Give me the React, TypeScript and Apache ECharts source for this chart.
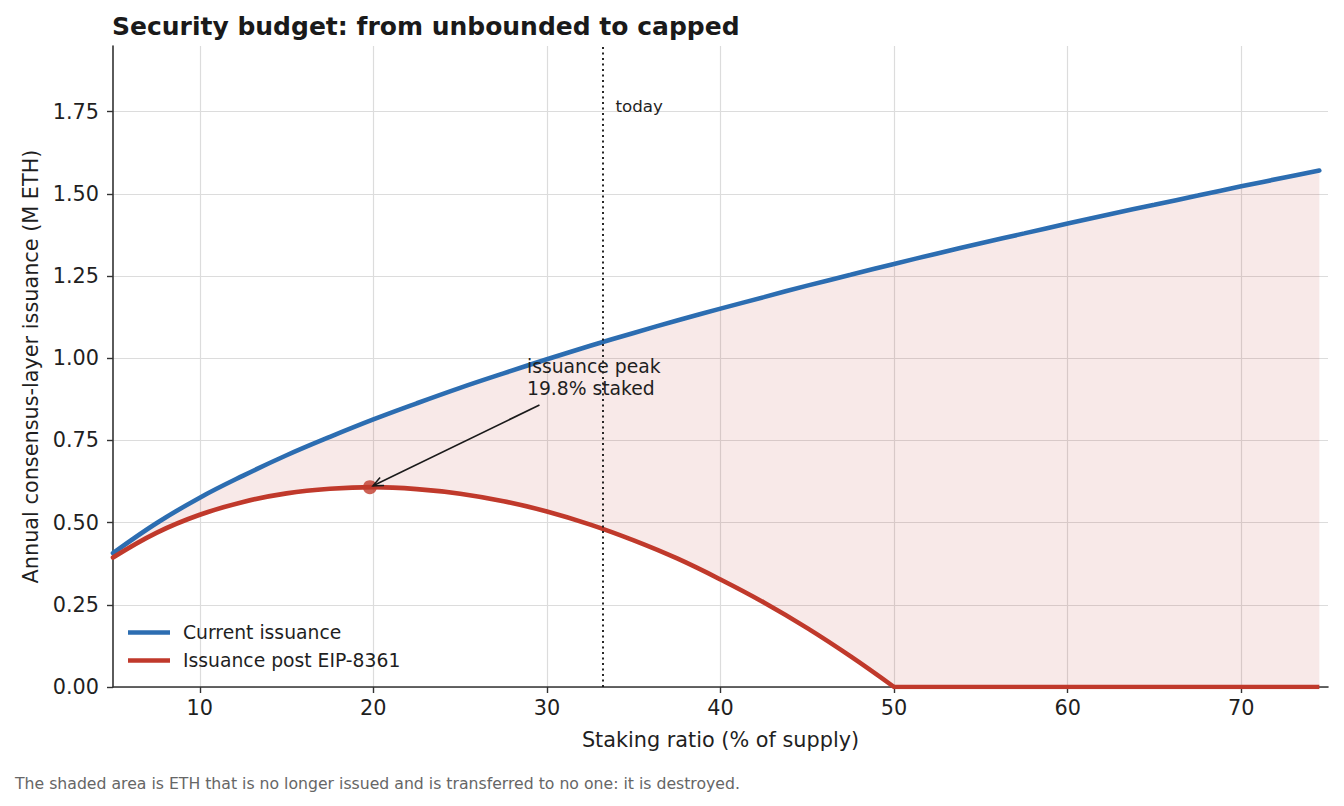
import React, { useRef, useEffect } from 'react';
import * as echarts from 'echarts';

const FONT = 'DejaVu Sans, sans-serif';

// ─── Palette ────────────────────────────────────────────────────────────────
const BLUE = '#2c6db1';
const RED = '#c0392b';
const FILL = 'rgba(192,57,43,0.11)';
const INK = '#1f1f1f';
const GRID = '#dcdcdc';

// ─── Data ───────────────────────────────────────────────────────────────────
const STAKE = [5, 7.5, 10, 12.5, 15, 17.5, 20, 22.5, 25, 27.5, 30, 32.5, 35, 37.5, 40, 42.5, 45, 47.5, 50, 52.5, 55, 57.5, 60, 62.5, 65, 67.5, 70, 72.5, 74.5];
const CURRENT = [0.407, 0.498, 0.576, 0.643, 0.705, 0.761, 0.814, 0.863, 0.910, 0.954, 0.997, 1.038, 1.077, 1.115, 1.151, 1.186, 1.221, 1.254, 1.287, 1.319, 1.350, 1.380, 1.410, 1.439, 1.467, 1.495, 1.523, 1.550, 1.571];
const POST = [0.394, 0.469, 0.524, 0.563, 0.589, 0.603, 0.608, 0.602, 0.588, 0.565, 0.534, 0.494, 0.446, 0.391, 0.327, 0.257, 0.179, 0.093, 0, 0, 0, 0, 0, 0, 0, 0, 0, 0, 0];
const X_TICKS = [10, 20, 30, 40, 50, 60, 70];
const Y_TICKS = [0, 0.25, 0.5, 0.75, 1.0, 1.25, 1.5, 1.75];
const PEAK = [19.8, 0.608];
const TODAY = 33.2;

const pairs = (ys: number[]) => STAKE.map((x, i) => [x, ys[i]]);
const cutAt = POST.indexOf(0) + 1; // curve part up to where issuance hits zero

function getOption(): echarts.EChartsCoreOption {
  return {
    animation: false,
    backgroundColor: '#ffffff',
    title: {
      text: 'Security budget: from unbounded to capped',
      left: 112,
      top: 14,
      padding: 0,
      textStyle: { fontFamily: FONT, fontSize: 25, fontWeight: 'bold', color: '#1a1a1a' },
    },
    legend: {
      data: ['Current issuance', 'Issuance post EIP-8361'],
      orient: 'vertical',
      left: 128,
      top: 623,
      padding: 0,
      itemGap: 9,
      itemWidth: 42,
      itemHeight: 4.5,
      icon: 'rect',
      textStyle: { fontFamily: FONT, fontSize: 18.75, color: INK, padding: [0, 0, 0, 8] },
    },
    grid: { left: 113, right: 16, top: 46, bottom: 119 },
    xAxis: {
      type: 'value',
      min: 5,
      max: 75,
      name: 'Staking ratio (% of supply)',
      nameLocation: 'middle',
      nameGap: 42,
      nameTextStyle: { fontFamily: FONT, fontSize: 20.8, color: INK },
      axisLine: { show: true, onZero: false, lineStyle: { color: '#333', width: 1.6 } },
      axisTick: { show: true, customValues: X_TICKS, length: 6, lineStyle: { color: '#333', width: 1.4 } },
      axisLabel: { customValues: X_TICKS, margin: 10, fontFamily: FONT, fontSize: 20.8, color: INK },
      splitLine: { show: true, lineStyle: { color: GRID, width: 1.2 } },
    },
    yAxis: {
      type: 'value',
      min: 0,
      max: 1.95,
      name: 'Annual consensus-layer issuance (M ETH)',
      nameLocation: 'middle',
      nameGap: 68,
      nameTextStyle: { fontFamily: FONT, fontSize: 20.8, color: INK },
      axisLine: { show: true, lineStyle: { color: '#333', width: 1.6 } },
      axisTick: { show: true, customValues: Y_TICKS, length: 6, lineStyle: { color: '#333', width: 1.4 } },
      axisLabel: {
        customValues: Y_TICKS,
        margin: 14,
        fontFamily: FONT,
        fontSize: 20.8,
        color: INK,
        formatter: (v: number) => v.toFixed(2),
      },
      splitLine: { show: true, lineStyle: { color: GRID, width: 1.2 } },
    },
    series: [
      // shaded band between the two curves
      {
        name: 'destroyed',
        type: 'custom',
        silent: true,
        z: 1,
        data: [0],
        renderItem: (_params: any, api: any) => {
          const top = STAKE.map((x, i) => api.coord([x, CURRENT[i]]));
          const bottom = STAKE.map((x, i) => api.coord([x, POST[i]])).reverse();
          return {
            type: 'polygon',
            shape: { points: top.concat(bottom) },
            style: { fill: FILL, stroke: 'none' },
          };
        },
      },
      {
        name: 'Current issuance',
        type: 'line',
        data: pairs(CURRENT),
        smooth: 0.4,
        symbol: 'none',
        color: BLUE,
        lineStyle: { color: BLUE, width: 4.6, cap: 'round' },
        z: 4,
        markLine: {
          silent: true,
          symbol: 'none',
          label: { show: false },
          lineStyle: { color: '#111', type: [2, 3.5], width: 1.8 },
          data: [{ xAxis: TODAY }],
        },
      },
      {
        name: 'Issuance post EIP-8361',
        type: 'line',
        data: pairs(POST).slice(0, cutAt),
        smooth: 0.4,
        symbol: 'none',
        color: RED,
        lineStyle: { color: RED, width: 4.6, cap: 'round' },
        z: 4,
      },
      {
        name: 'post-flat',
        type: 'line',
        data: pairs(POST).slice(cutAt - 1),
        symbol: 'none',
        color: RED,
        lineStyle: { color: RED, width: 4.6 },
        z: 4,
      },
      {
        name: 'peak',
        type: 'scatter',
        data: [PEAK],
        symbolSize: 14,
        itemStyle: { color: RED },
        z: 5,
      },
    ],
  };
}

function annotations(chart: echarts.ECharts) {
  const px = (p: number[]) => chart.convertToPixel({ gridIndex: 0 }, p) as number[];
  const textAt = px([28.85, 1.007]);
  const todayAt = px([33.95, 1.768]);
  const from = px([29.57, 0.858]);
  const to = px([19.98, 0.612]);
  const ang = Math.atan2(to[1] - from[1], to[0] - from[0]);
  const head = 11;
  const spread = 0.42;
  const wing = (s: number) => [to[0] - head * Math.cos(ang + s), to[1] - head * Math.sin(ang + s)];

  return [
    {
      type: 'text',
      x: textAt[0],
      y: textAt[1],
      z: 10,
      style: {
        text: 'issuance peak\n19.8% staked',
        fontFamily: FONT,
        fontSize: 18.75,
        lineHeight: 22,
        fill: INK,
        verticalAlign: 'top',
        align: 'left',
      },
    },
    {
      type: 'text',
      x: todayAt[0],
      y: todayAt[1],
      z: 10,
      style: { text: 'today', fontFamily: FONT, fontSize: 16.7, fill: INK, verticalAlign: 'middle' },
    },
    {
      type: 'line',
      z: 10,
      shape: { x1: from[0], y1: from[1], x2: to[0], y2: to[1] },
      style: { stroke: '#1a1a1a', lineWidth: 1.6 },
    },
    {
      type: 'polyline',
      z: 10,
      shape: { points: [wing(spread), to, wing(-spread)] },
      style: { stroke: '#1a1a1a', lineWidth: 1.6, fill: 'none' },
    },
    {
      type: 'text',
      left: 15,
      top: 775,
      z: 10,
      style: {
        text: 'The shaded area is ETH that is no longer issued and is transferred to no one: it is destroyed.',
        fontFamily: FONT,
        fontSize: 15.7,
        fill: '#666666',
      },
    },
  ];
}

function IssuanceChart() {
  const ref = useRef<HTMLDivElement>(null);

  useEffect(() => {
    if (!ref.current) return;
    document.body.style.margin = '0';
    const chart = echarts.init(ref.current, undefined, { renderer: 'svg' });
    chart.setOption(getOption());
    chart.setOption({ graphic: annotations(chart) });
    return () => chart.dispose();
  }, []);

  return <div ref={ref} style={{ width: 1344, height: 806 }} />;
}

export default function App() {
  return (
    <div style={{ position: 'absolute', left: 0, top: 0, width: 1344, height: 806, background: '#fff' }}>
      <IssuanceChart />
    </div>
  );
}
